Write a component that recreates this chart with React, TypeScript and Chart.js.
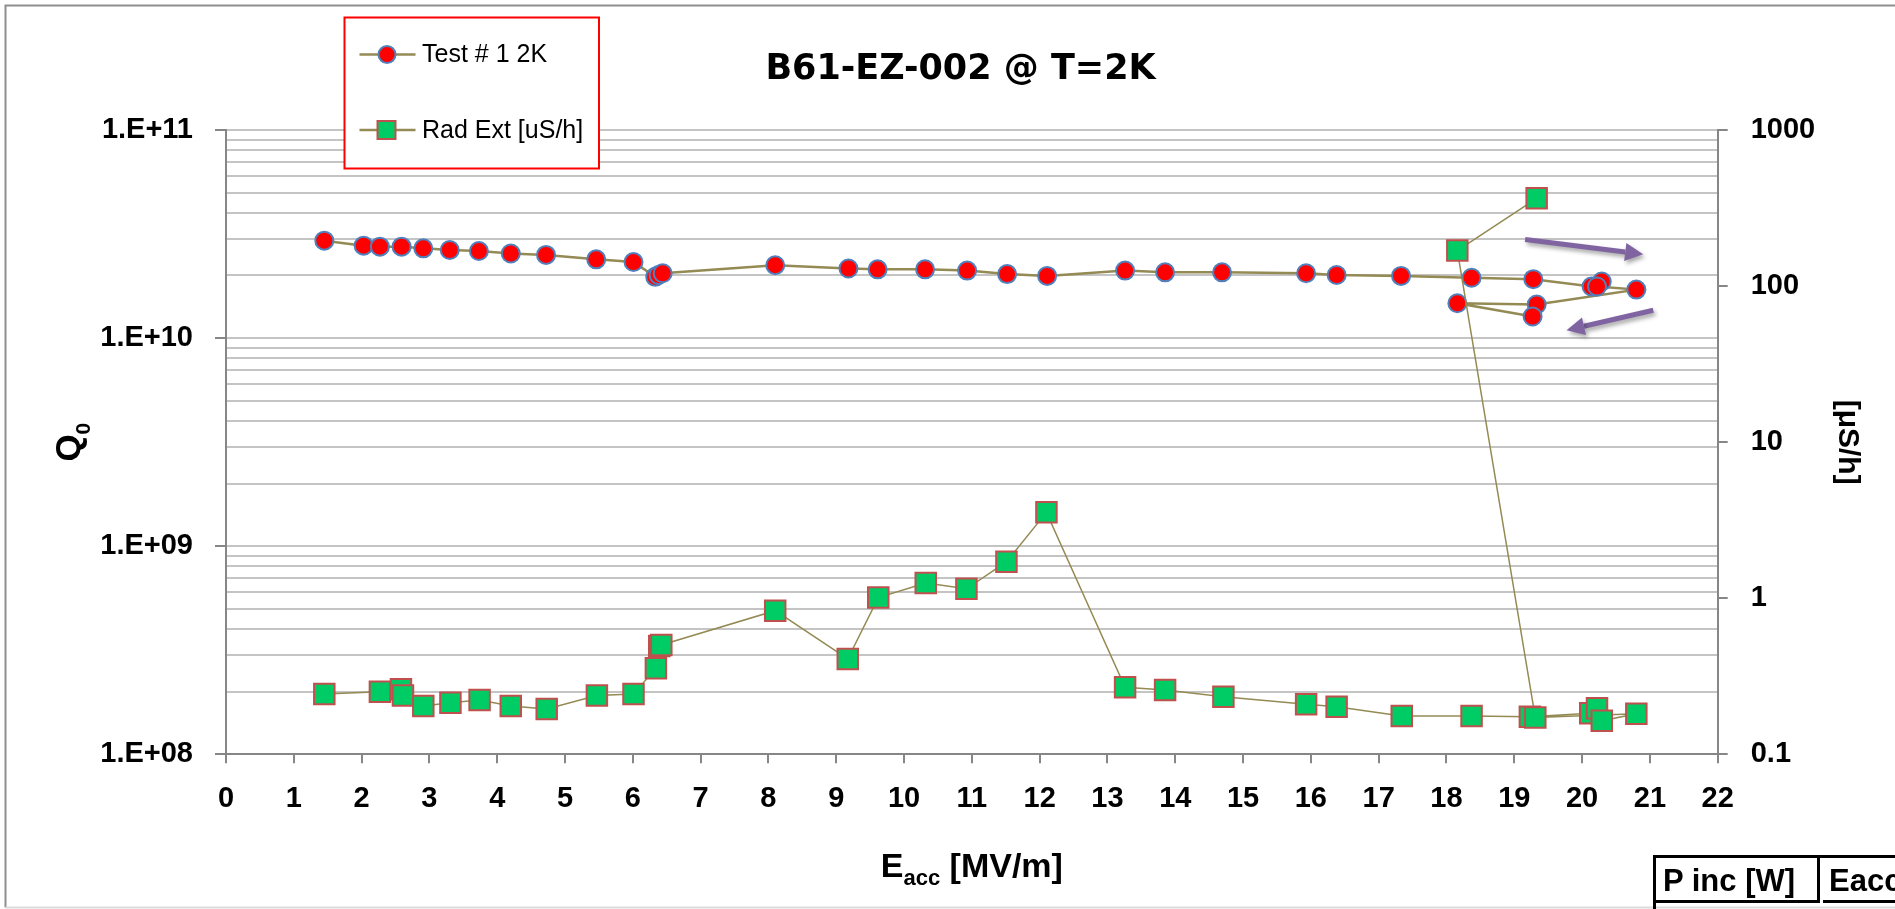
import React, { useEffect, useRef } from 'react';
import { Chart, registerables } from 'chart.js';

Chart.register(...registerables);

// ---------- data ----------
const chartTitle = 'B61-EZ-002 @ T=2K';
const series1Label = 'Test # 1 2K';
const series2Label = 'Rad Ext [uS/h]';

// Test #1 at 2K : Eacc [MV/m] and Q0
const testE = [
  1.45, 2.03, 2.27, 2.59, 2.91, 3.30, 3.73, 4.20, 4.72, 5.46, 6.01, 6.33, 6.38, 6.44,
  8.10, 9.18, 9.61, 10.31, 10.93, 11.52, 12.11, 13.26, 13.85, 14.69, 15.93, 16.38,
  17.33, 18.37, 19.28, 20.14, 20.29, 20.22, 20.80, 19.33, 18.16, 19.27,
];
const testQ = [
  2.94e10, 2.78e10, 2.75e10, 2.75e10, 2.70e10, 2.65e10, 2.62e10, 2.55e10, 2.51e10, 2.39e10,
  2.32e10, 1.97e10, 2.01e10, 2.05e10, 2.24e10, 2.16e10, 2.14e10, 2.14e10, 2.11e10, 2.03e10,
  1.99e10, 2.11e10, 2.07e10, 2.07e10, 2.05e10, 2.01e10, 1.99e10, 1.95e10, 1.92e10, 1.77e10,
  1.87e10, 1.77e10, 1.71e10, 1.45e10, 1.47e10, 1.27e10,
];

// External radiation [uS/h]
const radE = [
  1.45, 2.27, 2.58, 2.61, 2.91, 3.31, 3.74, 4.20, 4.73, 5.47, 6.01, 6.34, 6.39, 6.42,
  8.10, 9.17, 9.62, 10.32, 10.92, 11.51, 12.10, 13.26, 13.85, 14.71, 15.93, 16.38,
  17.34, 18.37, 19.23, 20.12, 20.22, 20.29, 20.80, 19.31, 18.16, 19.33,
];
const radR = [
  0.243, 0.252, 0.261, 0.238, 0.204, 0.214, 0.223, 0.204, 0.195, 0.238, 0.243, 0.356, 0.494, 0.502,
  0.832, 0.408, 1.01, 1.25, 1.15, 1.71, 3.55, 0.269, 0.258, 0.234, 0.209, 0.202,
  0.176, 0.176, 0.174, 0.183, 0.197, 0.164, 0.182, 0.172, 169, 365,
];

// axes
const xTickValues = [0, 1, 2, 3, 4, 5, 6, 7, 8, 9, 10, 11, 12, 13, 14, 15, 16, 17, 18, 19, 20, 21, 22];
const qDecades = [1e8, 1e9, 1e10, 1e11];
const qTickLabels = ['1.E+08', '1.E+09', '1.E+10', '1.E+11'];
const radDecades = [0.1, 1, 10, 100, 1000];
const radTickLabels = ['0.1', '1', '10', '100', '1000'];
const minorSteps = [1, 2, 3, 4, 5, 6, 7, 8, 9];

// purple annotation arrows (data coordinates, left axis)
const arrowFromE = [19.16, 21.05];
const arrowFromQ = [2.98e10, 1.36e10];
const arrowToE = [20.9, 19.77];
const arrowToQ = [2.53e10, 1.09e10];

// table fragment text
const tableHeaders = ['P inc [W]', 'Eacc'];

// ---------- styling ----------
const FONT = '"Liberation Sans", Arial, sans-serif';
const AXIS_GRAY = '#868686';
const GRID_GRAY = '#c4c4c4';
const LINE_OLIVE = '#948A54';
const W = 1895;
const H = 909;

const near = (a: number, b: number) => Math.abs(a - b) <= Math.abs(b) * 1e-6;

function drawArrow(ctx: CanvasRenderingContext2D, x1: number, y1: number, x2: number, y2: number) {
  const ang = Math.atan2(y2 - y1, x2 - x1);
  const head = 18;
  const hw = 9;
  const bx = x2 - head * Math.cos(ang);
  const by = y2 - head * Math.sin(ang);
  ctx.save();
  ctx.strokeStyle = '#8064A2';
  ctx.fillStyle = '#8064A2';
  ctx.lineWidth = 5;
  ctx.shadowColor = 'rgba(0,0,0,0.35)';
  ctx.shadowBlur = 4;
  ctx.shadowOffsetX = 2;
  ctx.shadowOffsetY = 3;
  ctx.beginPath();
  ctx.moveTo(x1, y1);
  ctx.lineTo(bx, by);
  ctx.stroke();
  ctx.beginPath();
  ctx.moveTo(x2, y2);
  ctx.lineTo(bx + hw * Math.sin(ang), by - hw * Math.cos(ang));
  ctx.lineTo(bx - hw * Math.sin(ang), by + hw * Math.cos(ang));
  ctx.closePath();
  ctx.fill();
  ctx.restore();
}

const decorPlugin = {
  id: 'decor',
  beforeDraw(chart: any) {
    const ctx: CanvasRenderingContext2D = chart.ctx;
    ctx.save();
    ctx.fillStyle = '#ffffff';
    ctx.fillRect(0, 0, chart.width, chart.height);
    ctx.strokeStyle = '#8e8e8e';
    ctx.lineWidth = 2;
    ctx.beginPath();
    ctx.moveTo(chart.width + 5, 5.5);
    ctx.lineTo(5.5, 5.5);
    ctx.lineTo(5.5, 907.5);
    ctx.stroke();
    ctx.strokeStyle = '#dcdcdc';
    ctx.beginPath();
    ctx.moveTo(5.5, 907.5);
    ctx.lineTo(chart.width + 5, 907.5);
    ctx.stroke();
    ctx.restore();
  },
  afterDatasetsDraw(chart: any) {
    const ctx: CanvasRenderingContext2D = chart.ctx;
    const xs = chart.scales.x;
    const ys = chart.scales.y;
    for (let i = 0; i < arrowFromE.length; i++) {
      drawArrow(
        ctx,
        xs.getPixelForValue(arrowFromE[i]),
        ys.getPixelForValue(arrowFromQ[i]),
        xs.getPixelForValue(arrowToE[i]),
        ys.getPixelForValue(arrowToQ[i])
      );
    }
  },
  afterDraw(chart: any) {
    const ctx: CanvasRenderingContext2D = chart.ctx;
    const ca = chart.chartArea;
    const ds = chart.data.datasets;
    ctx.save();

    // ---- legend box ----
    const lx = 344.5, ly = 17.5, lw = 254.5, lh = 151;
    ctx.fillStyle = '#ffffff';
    ctx.fillRect(lx, ly, lw, lh);
    ctx.strokeStyle = '#ff0000';
    ctx.lineWidth = 2;
    ctx.strokeRect(lx, ly, lw, lh);
    const rows = [54.5, 130];
    for (let i = 0; i < 2; i++) {
      const d = ds[i];
      const cy = rows[i];
      ctx.strokeStyle = d.borderColor;
      ctx.lineWidth = 2.5;
      ctx.beginPath();
      ctx.moveTo(359.5, cy);
      ctx.lineTo(415.5, cy);
      ctx.stroke();
      ctx.fillStyle = d.pointBackgroundColor;
      ctx.strokeStyle = d.pointBorderColor;
      ctx.lineWidth = 2;
      if (d.pointStyle === 'rect') {
        ctx.fillRect(377.5, cy - 9, 18, 18);
        ctx.strokeRect(377.5, cy - 9, 18, 18);
      } else {
        ctx.beginPath();
        ctx.arc(387, cy, 8.5, 0, Math.PI * 2);
        ctx.fill();
        ctx.stroke();
      }
      ctx.fillStyle = '#000';
      ctx.font = `25px ${FONT}`;
      ctx.textBaseline = 'middle';
      ctx.textAlign = 'left';
      ctx.fillText(d.label, 422, cy + 1);
    }

    // ---- x axis title: E_acc [MV/m] ----
    ctx.fillStyle = '#000';
    ctx.textBaseline = 'alphabetic';
    ctx.textAlign = 'left';
    const big = `bold 34px ${FONT}`;
    const small = `bold 22px ${FONT}`;
    ctx.font = big;
    const wE = ctx.measureText('E').width;
    const wRest = ctx.measureText(' [MV/m]').width;
    ctx.font = small;
    const wSub = ctx.measureText('acc').width;
    const total = wE + wSub + wRest;
    const x0 = (ca.left + ca.right) / 2 - total / 2;
    const by = ca.bottom + 123;
    ctx.font = big;
    ctx.fillText('E', x0, by);
    ctx.font = small;
    ctx.fillText('acc', x0 + wE, by + 8);
    ctx.font = big;
    ctx.fillText(' [MV/m]', x0 + wE + wSub, by);

    // ---- y axis title: Q0 ----
    ctx.save();
    ctx.translate(67.5, (ca.top + ca.bottom) / 2);
    ctx.rotate(-Math.PI / 2);
    const qBig = `bold 35px ${FONT}`;
    const qSmall = `bold 21px ${FONT}`;
    ctx.font = qBig;
    const wQ = ctx.measureText('Q').width;
    ctx.font = qSmall;
    const w0 = ctx.measureText('0').width;
    const qx = -(wQ + w0) / 2;
    ctx.font = qBig;
    ctx.fillText('Q', qx, 12.5);
    ctx.font = qSmall;
    ctx.fillText('0', qx + wQ, 22.5);
    ctx.restore();

    ctx.restore();
  },
};

export default function App() {
  const canvasRef = useRef<HTMLCanvasElement | null>(null);

  useEffect(() => {
    if (!canvasRef.current) return;
    const testPoints = testE.map((e, i) => ({ x: e, y: testQ[i] }));
    const radPoints = radE.map((e, i) => ({ x: e, y: radR[i] }));

    const qTicks: { value: number; major: boolean }[] = [];
    qDecades.forEach((d, i) => {
      if (i < qDecades.length - 1) {
        minorSteps.forEach((m) => qTicks.push({ value: d * m, major: m === 1 }));
      } else {
        qTicks.push({ value: d, major: true });
      }
    });

    const tickFont = { family: FONT, size: 29, weight: 'bold' as const };

    const chart = new Chart(canvasRef.current, {
      type: 'scatter',
      data: {
        datasets: [
          {
            label: series1Label,
            data: testPoints,
            showLine: true,
            borderColor: LINE_OLIVE,
            borderWidth: 2.5,
            pointStyle: 'circle',
            pointRadius: 9,
            pointBorderWidth: 2,
            pointBackgroundColor: '#FF0000',
            pointBorderColor: '#4F81BD',
            yAxisID: 'y',
            order: 2,
          } as any,
          {
            label: series2Label,
            data: radPoints,
            showLine: true,
            borderColor: LINE_OLIVE,
            borderWidth: 1.5,
            pointStyle: 'rect',
            pointRadius: 14.5,
            pointBorderWidth: 2,
            pointBackgroundColor: '#00CC66',
            pointBorderColor: '#C0504D',
            yAxisID: 'y1',
            order: 1,
          } as any,
        ],
      },
      options: {
        animation: false,
        responsive: false,
        maintainAspectRatio: false,
        devicePixelRatio: 1,
        layout: { padding: { left: 26, top: 0, right: 0, bottom: 0 } },
        plugins: {
          legend: { display: false },
          tooltip: { enabled: false },
          title: {
            display: true,
            text: chartTitle,
            color: '#000',
            font: { family: '"DejaVu Sans", sans-serif', size: 35, weight: 'bold' },
            padding: { top: 49, bottom: 39 },
          },
        },
        scales: {
          x: {
            type: 'linear',
            position: 'bottom',
            min: 0,
            max: 22,
            afterBuildTicks: (s: any) => {
              s.ticks = xTickValues.map((v) => ({ value: v }));
            },
            ticks: {
              font: tickFont,
              color: '#000',
              padding: 18,
              maxRotation: 0,
              autoSkip: false,
              callback: (v: any) => String(v),
            },
            grid: { drawOnChartArea: false, tickLength: 9, color: AXIS_GRAY, lineWidth: 2 },
            border: { color: AXIS_GRAY, width: 2 },
            afterFit: (s: any) => {
              s.height = H - 754.3;
            },
          },
          y: {
            type: 'logarithmic',
            position: 'left',
            min: qDecades[0],
            max: qDecades[qDecades.length - 1],
            afterBuildTicks: (s: any) => {
              s.ticks = qTicks.map((t) => ({ ...t }));
            },
            ticks: {
              font: tickFont,
              color: '#000',
              padding: 22,
              autoSkip: false,
              callback: (v: any) => {
                const i = qDecades.findIndex((d) => near(Number(v), d));
                return i >= 0 ? qTickLabels[i] : '';
              },
            },
            grid: {
              color: GRID_GRAY,
              lineWidth: 2,
              tickLength: 11,
              tickColor: (c: any) => (c.tick && c.tick.major ? AXIS_GRAY : 'rgba(0,0,0,0)'),
            },
            border: { color: AXIS_GRAY, width: 2 },
            afterFit: (s: any) => {
              s.width = 200;
            },
          },
          y1: {
            type: 'logarithmic',
            position: 'right',
            min: radDecades[0],
            max: radDecades[radDecades.length - 1],
            afterBuildTicks: (s: any) => {
              s.ticks = radDecades.map((v) => ({ value: v, major: true }));
            },
            ticks: {
              font: tickFont,
              color: '#000',
              padding: 23,
              autoSkip: false,
              callback: (v: any) => {
                const i = radDecades.findIndex((d) => near(Number(v), d));
                return i >= 0 ? radTickLabels[i] : '';
              },
            },
            grid: { drawOnChartArea: false, tickLength: 10, color: AXIS_GRAY, lineWidth: 2 },
            border: { color: AXIS_GRAY, width: 2 },
            title: {
              display: true,
              text: '[μS/h]',
              color: '#000',
              font: { family: FONT, size: 30, weight: 'bold' },
              padding: { top: 30, bottom: 0 },
            },
            afterFit: (s: any) => {
              s.width = W - 1717.7;
            },
          },
        },
      } as any,
      plugins: [decorPlugin],
    });

    return () => chart.destroy();
  }, []);

  return (
    <div
      style={{
        position: 'fixed',
        left: 0,
        top: 0,
        width: W,
        height: H,
        overflow: 'hidden',
        background: '#fff',
      }}
    >
      <canvas ref={canvasRef} width={W} height={H} style={{ display: 'block', width: W, height: H }} />
      <div
        style={{
          position: 'absolute',
          left: 1653,
          top: 855,
          width: 400,
          height: 100,
          borderTop: '3px solid #000',
          borderLeft: '3px solid #000',
          fontFamily: FONT,
          fontWeight: 'bold',
          fontSize: 31,
          color: '#000',
        }}
      >
        <div
          style={{
            position: 'absolute',
            left: 0,
            top: 0,
            width: 164,
            height: 45,
            borderRight: '3px solid #000',
            borderBottom: '3px solid #000',
            lineHeight: '45px',
            paddingLeft: 7,
            boxSizing: 'border-box',
            whiteSpace: 'nowrap',
          }}
        >
          {tableHeaders[0]}
        </div>
        <div
          style={{
            position: 'absolute',
            left: 167,
            top: 0,
            width: 233,
            height: 45,
            borderBottom: '3px solid #000',
            lineHeight: '45px',
            paddingLeft: 6,
            boxSizing: 'border-box',
            whiteSpace: 'nowrap',
          }}
        >
          {tableHeaders[1]}
        </div>
      </div>
    </div>
  );
}
